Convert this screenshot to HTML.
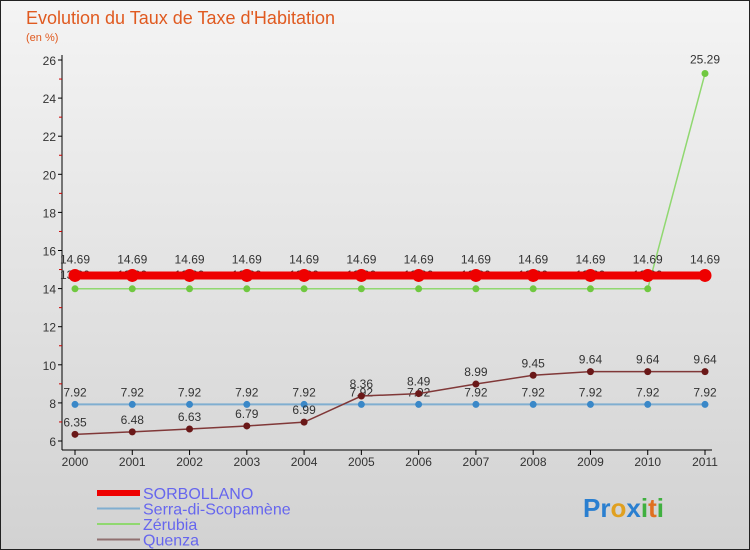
<!DOCTYPE html>
<html><head><meta charset="utf-8"><style>
body{margin:0;width:750px;height:550px;overflow:hidden;font-family:"Liberation Sans",sans-serif}
#c{position:absolute;left:0;top:0}
</style></head><body>
<svg id="c" width="750" height="550" xmlns="http://www.w3.org/2000/svg">
<defs><linearGradient id="bg" x1="0" y1="0" x2="0" y2="1"><stop offset="0" stop-color="#f4f4f4"/><stop offset="1" stop-color="#d2d2d2"/></linearGradient></defs>
<rect x="0.5" y="0.5" width="749" height="549" fill="url(#bg)" stroke="#222"/>
<text x="26" y="24" font-size="18" fill="#e05a20">Evolution du Taux de Taxe d'Habitation</text>
<text x="26" y="41" font-size="11" fill="#e05a20">(en %)</text>
<g id="axes"></g><g id="series"></g><g id="legend"></g>
<text x="583" y="517" font-size="26" font-weight="bold"><tspan fill="#2a7fd0">Pr</tspan><tspan fill="#e0a020">o</tspan><tspan fill="#2a7fd0">x</tspan><tspan fill="#40b040">i</tspan><tspan fill="#e07020">t</tspan><tspan fill="#40b040">i</tspan></text>
</svg>
<script>
const years=[2000,2001,2002,2003,2004,2005,2006,2007,2008,2009,2010,2011];
const sorbollano=[14.69,14.69,14.69,14.69,14.69,14.69,14.69,14.69,14.69,14.69,14.69,14.69];
const serra=[7.92,7.92,7.92,7.92,7.92,7.92,7.92,7.92,7.92,7.92,7.92,7.92];
const zerubia=[13.99,13.99,13.99,13.99,13.99,13.99,13.99,13.99,13.99,13.99,13.99,25.29];
const quenza=[6.35,6.48,6.63,6.79,6.99,8.36,8.49,8.99,9.45,9.64,9.64,9.64];
const yTicks=[6,8,10,12,14,16,18,20,22,24,26];
const NS="http://www.w3.org/2000/svg";
const X=i=>75+i*(630/11);
const Y=v=>441-(v-6)*19.05;
function mk(p,t,a){const e=document.createElementNS(NS,t);for(const k in a)e.setAttribute(k,a[k]);p.appendChild(e);return e;}
const ax=document.getElementById('axes');
let l=mk(ax,'line',{x1:62,y1:55,x2:62,y2:450,stroke:'#000'});

l=mk(ax,'line',{x1:62,y1:450,x2:712,y2:450,stroke:'#000'});

yTicks.forEach((v,k)=>{
 mk(ax,'line',{x1:58,y1:Y(v),x2:62,y2:Y(v),stroke:'#000'});
 if(k<yTicks.length-1)mk(ax,'line',{x1:59,y1:Y(v+1),x2:62,y2:Y(v+1),stroke:'#c00'});
 const t=mk(ax,'text',{x:56,y:Y(v)+5,'text-anchor':'end','font-size':12,fill:'#333'});t.textContent=v;
 
});
years.forEach((y,i)=>{
 mk(ax,'line',{x1:X(i),y1:450,x2:X(i),y2:455,stroke:'#000'});
 const t=mk(ax,'text',{x:X(i),y:466,'text-anchor':'middle','font-size':12,fill:'#333'});t.textContent=y;
 
});
const sg=document.getElementById('series');
function draw(vals,color,w,r,dot,name,labdy){
 const g=mk(sg,'g',{});
 mk(g,'polyline',{points:vals.map((v,i)=>X(i)+','+Y(v)).join(' '),fill:'none',stroke:color,'stroke-width':w});
 vals.forEach((v,i)=>{
  const c=mk(g,'circle',{cx:X(i),cy:Y(v),r:r,fill:dot});
  
  const t=mk(g,'text',{x:X(i),y:Y(v)+labdy,'text-anchor':'middle','font-size':12,fill:'#333'});t.textContent=v;
  
 });
}
draw(serra,'#80aed0',2,3.5,'#3a88c8','serra',-8);
draw(zerubia,'#90d870',1.5,3.5,'#70c840','zerubia',-10);
draw(quenza,'#803838',1.5,3.5,'#6a1818','quenza',-8);
draw(sorbollano,'#ee0000',8,6.5,'#ee0000','sorbollano',-12);
const lg=document.getElementById('legend');
[['SORBOLLANO','#ee0000',6],['Serra-di-Scopamène','#80aed0',2],['Zérubia','#90d870',2],['Quenza','#907070',2]].forEach((d,i)=>{
 const y=493+i*15.5;
 const g=mk(lg,'g',{});
 mk(g,'line',{x1:97,y1:y,x2:140,y2:y,stroke:d[1],'stroke-width':d[2]});
 const t=mk(g,'text',{x:143,y:y+6,'font-size':16,fill:'#6666ee'});t.textContent=d[0];
});
</script>
</body></html>
